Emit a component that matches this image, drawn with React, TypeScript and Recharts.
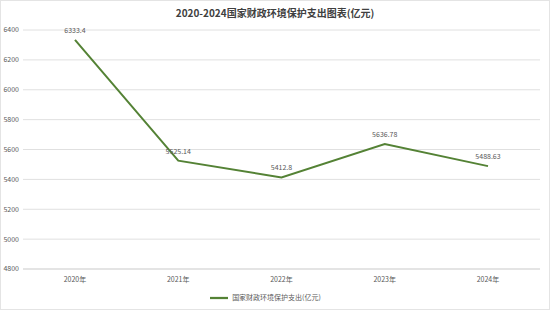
import { LineChart, Line, XAxis, YAxis, CartesianGrid, Legend, LabelList } from 'recharts';

const years = ['2020年', '2021年', '2022年', '2023年', '2024年'];
const spending = [6333.4, 5525.14, 5412.8, 5636.78, 5488.63];
const yTicks = [4800, 5000, 5200, 5400, 5600, 5800, 6000, 6200, 6400];

const seriesName = '国家财政环境保护支出(亿元)';
const title = '2020-2024国家财政环境保护支出图表(亿元)';

const chartData = years.map((year, i) => ({ year, value: spending[i] }));

const font = '"Noto Sans CJK SC", "Noto Sans", sans-serif';

export default function App() {
  return (
    <div
      style={{
        position: 'absolute',
        left: 0,
        top: 0,
        width: 550,
        height: 310,
        background: '#fff',
        fontFamily: font,
        boxSizing: 'border-box',
        border: '1px solid #e4e4e4',
      }}
    >
      <div
        style={{
          position: 'absolute',
          top: 4,
          left: 0,
          width: 548,
          textAlign: 'center',
          fontSize: 10,
          fontWeight: 'bold',
          color: '#404040',
        }}
      >
        {title}
      </div>
      <LineChart
        width={548}
        height={308}
        data={chartData}
        margin={{ top: 29, right: 9, left: 0, bottom: 4 }}
      >
        <CartesianGrid vertical={false} stroke="#e0e0e0" />
        <XAxis
          dataKey="year"
          padding={{ left: 52, right: 52 }}
          tick={{ fontSize: 7, fill: '#595959', fontFamily: font }}
          tickLine={false}
          tickSize={0}
          axisLine={{ stroke: '#d9d9d9' }}
          height={16}
          tickMargin={8}
        />
        <YAxis
          domain={[4800, 6400]}
          ticks={yTicks}
          tick={{ fontSize: 7, fill: '#595959', fontFamily: font }}
          tickLine={false}
          tickSize={0}
          axisLine={false}
          width={22}
          tickMargin={4}
        />
        <Legend
          verticalAlign="bottom"
          height={20}
          iconType="plainline"
          iconSize={18}
          wrapperStyle={{ fontSize: 7, color: '#595959', fontFamily: font, bottom: 0 }}
          formatter={(v) => <span style={{ color: '#595959' }}>{v}</span>}
        />
        <Line
          type="linear"
          dataKey="value"
          name={seriesName}
          stroke="#548235"
          strokeWidth={2}
          dot={false}
          isAnimationActive={false}
        >
          <LabelList
            dataKey="value"
            position="top"
            offset={7}
            style={{ fontSize: 7, fill: '#595959', fontFamily: font }}
          />
        </Line>
      </LineChart>
    </div>
  );
}
